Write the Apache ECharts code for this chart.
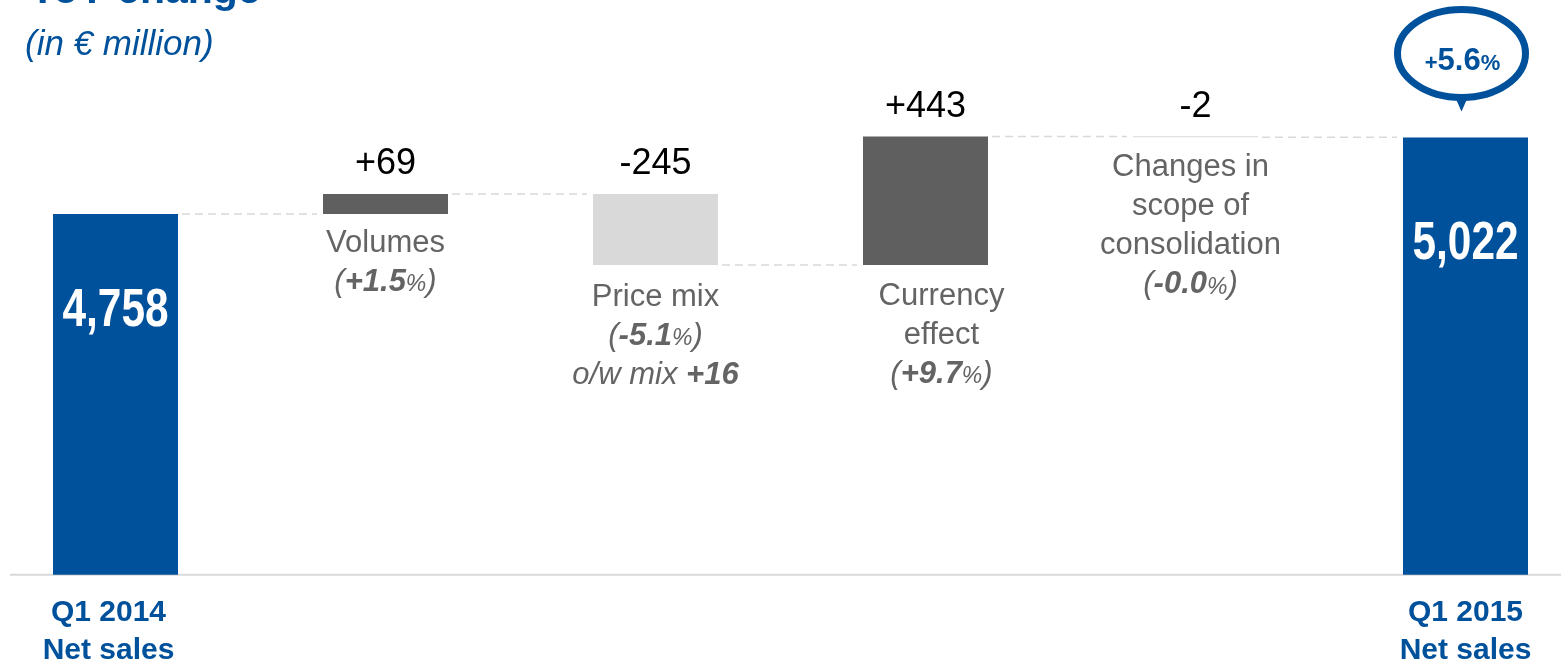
<!DOCTYPE html>
<html>
<head>
<meta charset="utf-8">
<script src="https://cdn.jsdelivr.net/npm/echarts@6/dist/echarts.min.js"></script>
<style>
  html, body { margin: 0; padding: 0; background: #ffffff; }
  #chart { width: 1561px; height: 664px; }
</style>
</head>
<body>
<div id="chart"></div>
<script>
// Net sales bridge from Q1 2014 to Q1 2015, in € million
const categories = ['Q1 2014', 'Volumes', 'Price mix', 'Currency effect', 'Scope', 'Q1 2015'];
const axisLabels = ['Q1 2014\nNet sales', '', '', '', '', 'Q1 2015\nNet sales'];
const openingSales = 4758;
const closingSales = 5022;
const stepValues = [69, -245, 443, -2];
const stepValueLabels = ['+69', '-245', '+443', '-2'];
const stepNames = ['Volumes', 'Price mix', 'Currency\neffect', 'Changes in\nscope of\nconsolidation'];
const stepPercents = ['+1.5', '-5.1', '+9.7', '-0.0'];
const stepNoteTexts = ['', 'o/w mix', '', ''];
const stepNoteValues = ['', '+16', '', ''];
const growthPercent = 5.6;

const BLUE = '#00519b';
const DARK = '#5f5f5f';
const LIGHT = '#d9d9d9';
const GREY_TEXT = '#646464';
const FONT = '"Liberation Sans", Arial, sans-serif';
const BAR_W = 125;
const Y_MIN = 3513;
const Y_MAX = 5462;

// Waterfall pieces: invisible base, rises, falls and the two totals
const baseData = ['-'];
const riseData = ['-'];
const fallData = ['-'];
const totalData = [openingSales];
const levelAfter = [openingSales];
let running = openingSales;
stepValues.forEach(v => {
  if (v >= 0) {
    baseData.push(running);
    riseData.push(v);
    fallData.push('-');
    running += v;
  } else {
    running += v;
    baseData.push(running);
    riseData.push('-');
    fallData.push(-v);
  }
  totalData.push('-');
  levelAfter.push(running);
});
baseData.push('-');
riseData.push('-');
fallData.push('-');
totalData.push(closingSales);

const capData = categories.map((c, i) => (i === 0 || i === categories.length - 1) ? '-' : 0);
const connectorData = levelAfter.map((lvl, i) => [i, lvl]);
const totalLabelData = [[0, openingSales], [categories.length - 1, closingSales]];

// Explanatory text beneath each movement
function stepText(k) {
  let s = stepNames[k].split('\n').map(t => '{n|' + t + '}').join('\n');
  s += '\n{p|(}{b|' + stepPercents[k] + '}{s|%}{p|)}';
  if (stepNoteTexts[k]) s += '\n{p|' + stepNoteTexts[k] + ' }{b|' + stepNoteValues[k] + '}';
  return s;
}
const stepRich = {
  n: { fontFamily: FONT, fontSize: 31, color: GREY_TEXT, lineHeight: 39 },
  p: { fontFamily: FONT, fontSize: 31, fontStyle: 'italic', color: GREY_TEXT, lineHeight: 39 },
  b: { fontFamily: FONT, fontSize: 31, fontStyle: 'italic', fontWeight: 'bold', color: GREY_TEXT, lineHeight: 39 },
  s: { fontFamily: FONT, fontSize: 23, fontStyle: 'italic', color: GREY_TEXT, lineHeight: 39, padding: [5, 0, 0, 0] }
};
const stepLabelPlacement = [
  { distance: 10, offset: [0, 0] },
  { distance: 13, offset: [0, 0] },
  { distance: 12, offset: [16, 0] },
  { distance: 11, offset: [-5, 0] }
];

function withStepLabels(arr) {
  return arr.map((v, i) => {
    if (v === '-') return v;
    const pl = stepLabelPlacement[i - 1];
    return { value: v, label: { distance: pl.distance, offset: pl.offset } };
  });
}

// First caption sits a little left of its bar
const categoryItems = categories.map((c, i) => i === 0
  ? { value: c, textStyle: { padding: [0, 14, 0, 0] } }
  : c);

const chart = echarts.init(document.getElementById('chart'), null, { renderer: 'canvas' });

chart.setOption({
  animation: false,
  title: [
    {
      text: 'YoY change',
      left: 24, top: -34,
      textStyle: { fontFamily: FONT, fontSize: 41, fontWeight: 'bold', color: BLUE }
    },
    {
      text: '(in € million)',
      left: 20, top: 23,
      textStyle: { fontFamily: FONT, fontSize: 35, fontStyle: 'italic', fontWeight: 'normal', color: BLUE }
    }
  ],
  grid: { left: -19.5, right: -39.5, top: 10, bottom: 89.3, containLabel: false, outerBoundsMode: 'none' },
  xAxis: {
    type: 'category',
    data: categoryItems,
    axisLine: { show: false },
    axisTick: { show: false },
    splitLine: { show: false },
    axisLabel: {
      interval: 0,
      margin: 19,
      formatter: (val, idx) => axisLabels[idx],
      fontFamily: FONT, fontSize: 30, fontWeight: 'bold', color: BLUE, lineHeight: 38
    }
  },
  yAxis: {
    type: 'value',
    min: Y_MIN, max: Y_MAX,
    show: false,
    splitLine: { show: false }
  },
  series: [
    {
      name: 'base', type: 'bar', stack: 'bridge', barWidth: BAR_W,
      itemStyle: { color: 'transparent' },
      emphasis: { disabled: true },
      data: baseData
    },
    {
      name: 'rise', type: 'bar', stack: 'bridge', barWidth: BAR_W,
      itemStyle: { color: DARK },
      emphasis: { disabled: true },
      label: {
        show: true, position: 'bottom', align: 'center',
        formatter: p => stepText(p.dataIndex - 1),
        rich: stepRich
      },
      data: withStepLabels(riseData)
    },
    {
      name: 'fall', type: 'bar', stack: 'bridge', barWidth: BAR_W, barMinHeight: 1,
      itemStyle: { color: LIGHT },
      emphasis: { disabled: true },
      label: {
        show: true, position: 'bottom', align: 'center',
        formatter: p => stepText(p.dataIndex - 1),
        rich: stepRich
      },
      data: withStepLabels(fallData)
    },
    {
      name: 'total', type: 'bar', stack: 'bridge', barWidth: BAR_W,
      itemStyle: { color: BLUE },
      emphasis: { disabled: true },
      data: totalData
    },
    {
      name: 'change', type: 'bar', stack: 'bridge', barWidth: BAR_W,
      itemStyle: { color: 'transparent' },
      emphasis: { disabled: true },
      label: {
        show: true, position: 'top', distance: 12,
        formatter: p => stepValueLabels[p.dataIndex - 1],
        fontFamily: FONT, fontSize: 36, color: '#000000'
      },
      data: capData
    },
    {
      // condensed white figures inside the two total bars
      name: 'totalFigures', type: 'custom', z: 5, silent: true,
      renderItem: (params, api) => {
        const idx = api.value(0);
        const val = api.value(1);
        const p = api.coord([idx, val]);
        const dy = idx === 0 ? 97 : 107;
        return {
          type: 'text',
          x: p[0], y: p[1] + dy,
          scaleX: 0.8,
          style: {
            text: val.toLocaleString('en-US'),
            fontFamily: FONT, fontSize: 53, fontWeight: 'bold', fill: '#ffffff',
            align: 'center', verticalAlign: 'middle'
          }
        };
      },
      data: totalLabelData
    },
    {
      name: 'connectors', type: 'custom', z: 1, silent: true,
      renderItem: (params, api) => {
        const i = api.value(0);
        const lvl = api.value(1);
        const a = api.coord([i, lvl]);
        const b = api.coord([i + 1, lvl]);
        return {
          type: 'line',
          shape: { x1: a[0] + BAR_W / 2 + 4, y1: a[1], x2: b[0] - BAR_W / 2 - 6, y2: b[1] },
          style: { stroke: LIGHT, lineWidth: 1.5, lineDash: [8, 5] }
        };
      },
      data: connectorData.slice(0, categories.length - 1)
    }
  ]
});

// Baseline and the growth bubble above the closing bar
const baseY = chart.convertToPixel({ yAxisIndex: 0 }, Y_MIN);
const closeTop = chart.convertToPixel({ gridIndex: 0 }, [categories.length - 1, closingSales]);
const cx = closeTop[0] - 4;
const cy = closeTop[1] - 84;

chart.setOption({
  graphic: [
    {
      type: 'line', z: 0, silent: true,
      shape: { x1: 10, y1: baseY, x2: 1561, y2: baseY },
      style: { stroke: LIGHT, lineWidth: 2 }
    },
    {
      type: 'polygon', z: 10, silent: true,
      shape: { points: [[cx - 8, cy + 40], [cx + 8, cy + 40], [cx, cy + 58]] },
      style: { fill: BLUE }
    },
    {
      type: 'ellipse', z: 11, silent: true,
      shape: { cx: cx, cy: cy, rx: 64, ry: 44 },
      style: { fill: '#ffffff', stroke: BLUE, lineWidth: 7 }
    },
    {
      type: 'text', z: 12, silent: true,
      x: cx + 1, y: cy + 8,
      style: {
        text: '{s|+}{b|' + growthPercent.toFixed(1) + '}{s|%}',
        align: 'center', verticalAlign: 'middle',
        rich: {
          s: { fontFamily: FONT, fontSize: 22, fontWeight: 'bold', fill: BLUE, padding: [5, 0, 0, 0] },
          b: { fontFamily: FONT, fontSize: 31, fontWeight: 'bold', fill: BLUE }
        }
      }
    }
  ]
});
</script>
</body>
</html>
